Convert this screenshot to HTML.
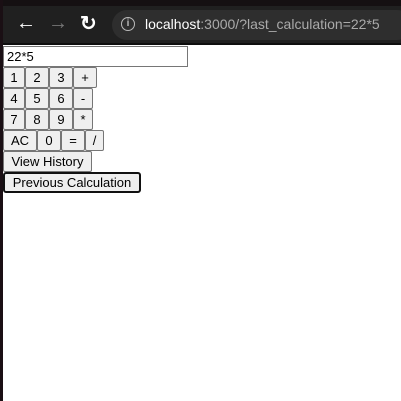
<!DOCTYPE html>
<html><head><style>
body{margin:0;width:401px;height:401px;background:#fff;position:relative;overflow:hidden;font-family:"Liberation Sans",sans-serif}
.a{position:absolute}
.b{position:absolute;box-sizing:border-box;height:21px;background:#efefef;border:1px solid #767676;border-radius:2px;font-size:13px;color:#000;display:flex;align-items:center;justify-content:center;padding:0}
</style></head><body>
<div class="a" style="left:0;top:0;width:401px;height:6px;background:#151012"></div>
<div class="a" style="left:0;top:6px;width:401px;height:38px;background:#202020"></div>
<div class="a" style="left:0;top:43px;width:401px;height:2px;background:#0e0e0e"></div>
<div class="a" style="left:112px;top:10px;width:300px;height:30px;border-radius:15px;background:#2e2e2e"></div>
<div class="a" style="left:0;top:0;width:3px;height:401px;background:#1a0f14"></div>
<div class="a" style="left:16px;top:12px;color:#fff;font-size:20px;font-weight:bold">&#8592;</div>
<div class="a" style="left:48px;top:12px;color:#777;font-size:20px;font-weight:bold">&#8594;</div>
<div class="a" style="left:80px;top:11px;color:#fff;font-size:20px;font-weight:bold">&#8635;</div>
<div class="a" style="left:121px;top:17px;width:12px;height:12px;border:1.5px solid #bbb;border-radius:50%;color:#bbb;font-size:10px;text-align:center;line-height:12px;font-weight:bold">i</div>
<div class="a" style="left:145px;top:16px;font-size:14px;color:#fff;white-space:nowrap">localhost<span style="color:#aaa">:3000/?last_calculation=22*5</span></div>
<div class="a" style="left:3px;top:46px;width:185px;height:21px;box-sizing:border-box;border:1px solid #767676;font-size:13px;padding:2px 3px;line-height:15px">22*5</div>
<div class="b" style="left:3px;top:67px;width:22px">1</div>
<div class="b" style="left:25px;top:67px;width:24px">2</div>
<div class="b" style="left:49px;top:67px;width:24px">3</div>
<div class="b" style="left:73px;top:67px;width:24px">+</div>
<div class="b" style="left:3px;top:88px;width:22px">4</div>
<div class="b" style="left:25px;top:88px;width:24px">5</div>
<div class="b" style="left:49px;top:88px;width:24px">6</div>
<div class="b" style="left:73px;top:88px;width:20px">-</div>
<div class="b" style="left:3px;top:109px;width:22px">7</div>
<div class="b" style="left:25px;top:109px;width:24px">8</div>
<div class="b" style="left:49px;top:109px;width:24px">9</div>
<div class="b" style="left:73px;top:109px;width:20px">*</div>
<div class="b" style="left:3px;top:130px;width:34px">AC</div>
<div class="b" style="left:37px;top:130px;width:24px">0</div>
<div class="b" style="left:61px;top:130px;width:24px">=</div>
<div class="b" style="left:85px;top:130px;width:19px">/</div>
<div class="b" style="left:3px;top:151px;width:89px">View History</div>
<div class="b" style="left:3px;top:172px;width:138px;border:2px solid #111;border-radius:3px">Previous Calculation</div>
</body></html>
